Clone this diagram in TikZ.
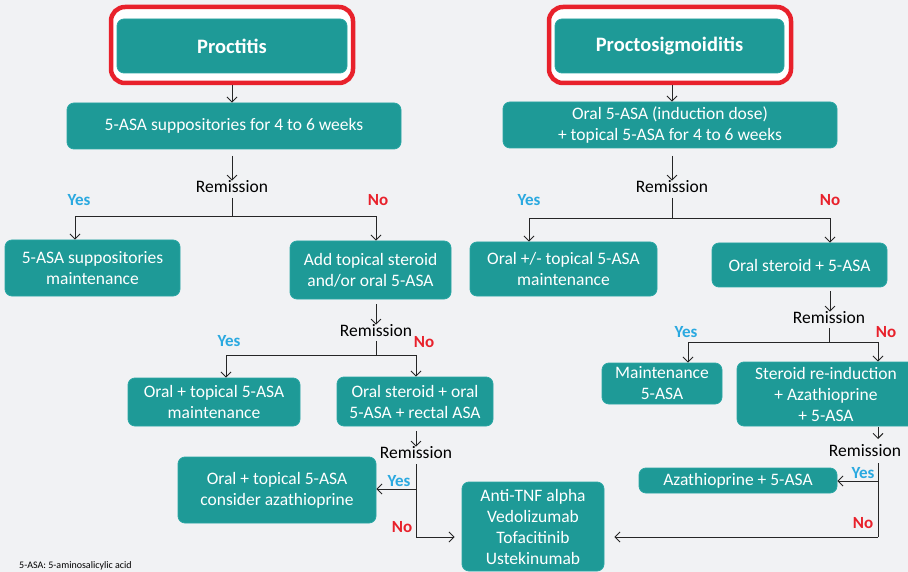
\documentclass[tikz,border=0pt]{standalone}
\usepackage{fontspec}
\setmainfont{Carlito}
\usetikzlibrary{arrows.meta}
\definecolor{bgc}{HTML}{F1F2F4}
\definecolor{tealc}{HTML}{1E9A97}
\definecolor{tealedge}{HTML}{2AA7A4}
\definecolor{yesc}{HTML}{2AA9E0}
\definecolor{noc}{HTML}{E8212B}
\tikzset{
  box/.style={fill=tealc, draw=tealedge, line width=0.8pt, rounded corners=7pt,
    text=white, font=\fontsize{17.5}{21}\selectfont, align=center, inner sep=0pt},
  frame/.style={draw=noc, line width=4.5pt, fill=white, rounded corners=14pt},
  remis/.style={font=\fontsize{17.5}{21}\selectfont, text=black, inner sep=0pt},
  yes/.style={font=\bfseries\fontsize{17}{20}\selectfont, text=yesc, inner sep=0pt},
  no/.style={font=\bfseries\fontsize{17}{20}\selectfont, text=noc, inner sep=0pt},
  con/.style={draw=black!85, line width=0.9pt},
  arr/.style={con, -{Straight Barb[length=5pt,width=10pt,line width=0.9pt]}}
}
% box placed by its pixel corners: \tbox{name}{x1}{y1}{x2}{y2}{text}
\newcommand{\tbox}[6]{%
  \path (#2,#3) -- (#4,#5) node[midway, box, minimum width={#4-#2}, minimum height={#5-#3}] (#1) {#6};}
\begin{document}
\begin{tikzpicture}[x=1pt,y=-1pt]
\fill[bgc] (0,0) rectangle (908,572);
\useasboundingbox (0,0) rectangle (908,572);

% ---------- left column: proctitis ----------
\draw[frame] (111,7) rectangle (353,83);
\tbox{proc}{117}{19}{347}{73}{\bfseries\fontsize{20.5}{24}\selectfont Proctitis}
\tbox{supp}{67}{103}{401}{149}{5-ASA suppositories for 4 to 6 weeks}
\coordinate (f1) at (232,85);
\draw[arr] (f1) -- (supp.north -| f1);

\node[remis] (r1) at (232,187) {Remission};
\draw[arr] (232,156) -- (r1.north);
\tbox{suppm}{5}{240}{180}{296}{5-ASA suppositories\\maintenance}
\tbox{addst}{290}{241}{451}{299}{Add topical steroid\\and/or oral 5-ASA}
\coordinate (r1s) at (232,198);
\coordinate (r1y) at (75,216);
\coordinate (r1n) at (376,216);
\draw[con] (r1s) -- (232,216);
\draw[arr] (r1y -| r1n) -- (r1y) -- (suppm.north -| r1y);
\draw[arr] (r1y -| r1s) -- (r1n) -- (addst.north -| r1n);
\node[yes] at (79,200) {Yes};
\node[no] at (378,200) {No};

\node[remis] (r2) at (376,331) {Remission};
\draw[arr] (376,304) -- (r2.north);
\tbox{otm}{128}{378}{300}{426}{Oral + topical 5-ASA\\maintenance}
\tbox{osr}{337}{377}{493}{426}{Oral steroid + oral\\5-ASA + rectal ASA}
\coordinate (r2s) at (376,341);
\coordinate (r2y) at (226,355);
\coordinate (r2n) at (416,355);
\draw[con] (r2s) -- (376,355);
\draw[arr] (r2y -| r2n) -- (r2y) -- (otm.north -| r2y);
\draw[arr] (r2y -| r2s) -- (r2n) -- (osr.north -| r2n);
\node[yes] at (229,341) {Yes};
\node[no] at (424,342) {No};

\node[remis] (r3) at (416,453) {Remission};
\draw[arr] (416,431) -- (r3.north);
\tbox{otaz}{178}{457}{376}{523}{Oral + topical 5-ASA\\consider azathioprine}
\tbox{bio}{462}{482}{604}{571}{\fontsize{17.5}{22.5}\selectfont Anti-TNF alpha\\Vedolizumab\\Tofacitinib\\Ustekinumab}
\coordinate (r3s) at (416,464);
\coordinate (r3e) at (416,537);
\draw[con] (r3s) -- (r3e);
\draw[arr] (416,489) -- (otaz.east |- 416,489);
\draw[arr, shorten >=7pt] (r3e) -- (bio.west |- r3e);
\node[yes] at (399,481) {Yes};
\node[no] at (402,527) {No};

% ---------- right column: proctosigmoiditis ----------
\draw[frame] (549,7) rectangle (791,83);
\tbox{psig}{555}{19}{784}{73}{\bfseries\fontsize{20.5}{24}\selectfont Proctosigmoiditis}
\tbox{oind}{503}{102}{837}{148}{Oral 5-ASA (induction dose)\\+ topical 5-ASA for 4 to 6 weeks}
\coordinate (f2) at (672,85);
\draw[arr] (f2) -- (oind.north -| f2);

\node[remis] (s1) at (672,187) {Remission};
\draw[arr] (672,156) -- (s1.north);
\tbox{otpm}{470}{242}{657}{296}{Oral +/- topical 5-ASA\\maintenance}
\tbox{ost}{712}{243}{887}{287}{Oral steroid + 5-ASA}
\coordinate (s1s) at (672,198);
\coordinate (s1y) at (529,218);
\coordinate (s1n) at (830,218);
\draw[con] (s1s) -- (672,218);
\draw[arr] (s1y -| s1n) -- (s1y) -- (otpm.north -| s1y);
\draw[arr] (s1y -| s1s) -- (s1n) -- (ost.north -| s1n);
\node[yes] at (529,200) {Yes};
\node[no] at (830,200) {No};

\node[remis] (s2) at (829,318) {Remission};
\draw[arr] (830,291) -- (s2.north -| 830,0);
\tbox{m5}{602}{363}{722}{404}{Maintenance\\5-ASA}
\tbox{sri}{737}{362}{915}{426}{Steroid re-induction\\+ Azathioprine\\+ 5-ASA}
\coordinate (s2s) at (829,328);
\coordinate (s2y) at (688,342);
\coordinate (s2n) at (878,342);
\draw[con] (s2s) -- (829,342);
\draw[arr] (s2y -| s2n) -- (s2y) -- (m5.north -| s2y);
\draw[arr] (s2y -| s2s) -- (s2n) -- (sri.north -| s2n);
\node[yes] at (686,332) {Yes};
\node[no] at (886,332) {No};

\node[remis] (s3) at (865,451) {Remission};
\draw[arr] (878,427) -- (878,439);
\tbox{aza}{639}{468}{837}{493}{Azathioprine + 5-ASA}
\coordinate (s3s) at (878,463);
\coordinate (s3e) at (878,537);
\draw[con] (s3s) -- (s3e);
\draw[arr] (878,481) -- (aza.east |- 878,481);
\draw[arr, shorten >=10pt] (s3e) -- (bio.east |- s3e);
\node[yes] at (863,473) {Yes};
\node[no] at (863,523) {No};

% ---------- footnote ----------
\node[font=\fontsize{10}{12}\selectfont, anchor=west, inner sep=0pt] (fn) at (19,566) {5-ASA: 5-aminosalicylic acid};
\end{tikzpicture}
\end{document}
